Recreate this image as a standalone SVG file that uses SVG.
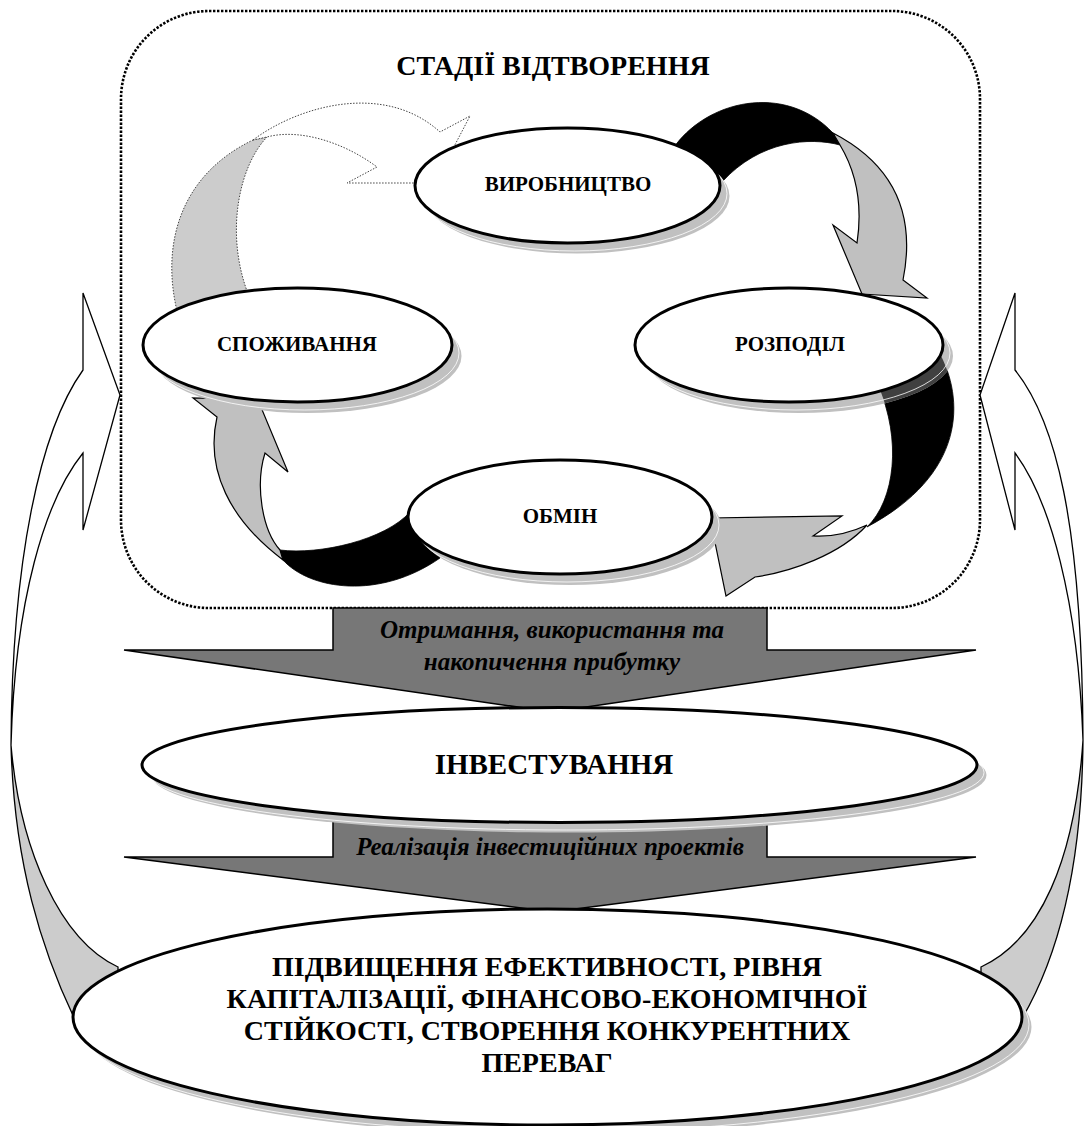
<svg xmlns="http://www.w3.org/2000/svg" width="1084" height="1126" viewBox="0 0 1084 1126">
<defs>
<style>
.t{font-family:"Liberation Serif","Times New Roman",serif;font-weight:bold;text-anchor:middle;fill:#000}
.ti{font-style:italic}
.s21{font-size:21px}
.s28{font-size:28px}
.s29{font-size:29px}
.s25{font-size:25px}
.el{fill:#fff;stroke:#000;stroke-width:3}
.sh{fill:#c0c0c0}
.shl{fill:none;stroke:#fff;stroke-width:0.8}
.side{fill:#fff;stroke:#000;stroke-width:1.3;stroke-linejoin:miter}
.sideg{fill:#cccccc;stroke:#000;stroke-width:1.3}
.blk{fill:#000;stroke:#000;stroke-width:0.8}
.gry{fill:#c0c0c0;stroke:#000;stroke-width:1.2;stroke-linejoin:miter}
.dotg{fill:#cccccc;stroke:#444;stroke-width:1;stroke-dasharray:1.5 1.5}
.dotw{fill:#fff;stroke:#444;stroke-width:1;stroke-dasharray:1.5 1.5}
.barrow{fill:#777;stroke:#000;stroke-width:1.5;stroke-linejoin:miter}
.frame{fill:none;stroke:#000;stroke-width:2.6;stroke-dasharray:2.4 1.6}
</style>
<path id="bandR" d="M 938,350 C 966,400 965,475 867,527 C 895,500 902,440 878,385 Z"/>
<clipPath id="clipShR"><ellipse cx="799" cy="356" rx="154" ry="57"/></clipPath>
</defs>
<rect width="1084" height="1126" fill="#fff"/>

<g id="frame">
<rect class="frame" x="121" y="11" width="859" height="597" rx="88" ry="88"/>
<text class="t s28" x="553" y="75">СТАДІЇ ВІДТВОРЕННЯ</text>
</g>

<g id="connectors">
<!-- left side return arrow -->
<path class="side" d="M 11,745 C 12,560 40,430 83,370 L 83,293 L 120,395 L 83,530 L 83,453 C 45,500 15,600 11,745 Z"/>
<path class="sideg" d="M 11,745 C 20,850 60,940 118,967 L 118,990 L 80,1030 C 40,950 14,860 11,745 Z"/>
<!-- right side return arrow -->
<path class="side" d="M 1083,740 C 1082,520 1055,420 1015,370 L 1015,293 L 980,395 L 1015,530 L 1015,453 C 1050,500 1078,600 1083,740 Z"/>
<path class="sideg" d="M 1083,740 C 1075,860 1040,940 981,967 L 981,990 L 1015,1030 C 1060,960 1082,860 1083,740 Z"/>

<!-- СПОЖИВАННЯ -> ВИРОБНИЦТВО -->
<path class="dotg" d="M 178,315 C 160,245 180,175 253,140 L 267,137 C 240,165 225,230 247,291 L 245,305 Z"/>
<path class="dotw" d="M 253,140 C 300,105 385,82 440,132 L 470,116 L 435,183 L 347,183 L 377,167 C 345,143 300,128 267,137 Z"/>

<!-- ВИРОБНИЦТВО -> РОЗПОДІЛ -->
<path class="blk" d="M 672,150 C 705,100 785,82 833,133 L 840,145 C 810,137 760,140 722,182 Z"/>
<path class="gry" d="M 833,133 C 885,160 918,205 903,280 L 927,298 L 862,294 L 833,225 L 857,243 C 862,210 858,175 840,145 Z"/>

<!-- РОЗПОДІЛ -> ОБМІН -->
<use href="#bandR" class="blk"/>
<path class="gry" d="M 867,525 C 850,533 830,537 813,536 L 842,516 L 710,518 L 726,596 L 755,577 C 790,572 840,555 867,525 Z"/>

<!-- ОБМІН -> СПОЖИВАННЯ -->
<path class="blk" d="M 410,512 C 385,540 320,555 280,550 L 283,560 C 310,590 380,600 440,558 Z"/>
<path class="gry" d="M 283,560 C 230,520 205,470 217,417 L 193,398 L 258,400 L 288,472 L 265,453 C 255,485 262,530 280,550 Z"/>

<!-- block arrows -->
<g id="arrow-profit">
<polygon class="barrow" points="333,608 767,608 767,650 976,650 552,712 124,650 333,650"/>
<text class="t ti s25" x="552" y="638">Отримання, використання та</text>
<text class="t ti s25" x="552" y="670">накопичення прибутку</text>
</g>
<g id="arrow-projects">
<polygon class="barrow" points="333,790 767,790 767,857 976,857 552,912 124,857 333,857"/>
<text class="t ti s25" x="550" y="855">Реалізація інвестиційних проектів</text>
</g>
</g>

<g id="node-vyrobnytstvo">
<ellipse class="sh" cx="577" cy="196" rx="152.5" ry="57.5"/>
<ellipse class="shl" cx="574.5" cy="193.5" rx="152.5" ry="57.5"/>
<ellipse class="el" cx="567.5" cy="185.5" rx="152.5" ry="57.5"/>
<text class="t s21" x="568" y="191">ВИРОБНИЦТВО</text>
</g>

<g id="node-spozhyvannia">
<ellipse class="sh" cx="307" cy="356" rx="154.5" ry="57"/>
<ellipse class="shl" cx="304.5" cy="353" rx="154.5" ry="57"/>
<ellipse class="el" cx="297.5" cy="345" rx="154.5" ry="57"/>
<text class="t s21" x="297" y="351">СПОЖИВАННЯ</text>
</g>

<g id="node-rozpodil">
<ellipse class="sh" cx="799" cy="356" rx="154" ry="57"/>
<use href="#bandR" fill="#404040" clip-path="url(#clipShR)"/>
<ellipse class="shl" cx="796" cy="353" rx="154" ry="57"/>
<ellipse class="el" cx="789" cy="345" rx="154" ry="57"/>
<text class="t s21" x="790" y="351">РОЗПОДІЛ</text>
</g>

<g id="node-obmin">
<ellipse class="sh" cx="570" cy="528" rx="152" ry="57"/>
<ellipse class="shl" cx="567" cy="525" rx="152" ry="57"/>
<ellipse class="el" cx="560" cy="517" rx="152" ry="57"/>
<text class="t s21" x="560" y="523">ОБМІН</text>
</g>

<g id="node-investuvannia">
<ellipse class="sh" cx="569" cy="775" rx="417.5" ry="57.5"/>
<ellipse class="shl" cx="566.5" cy="772.5" rx="417.5" ry="57.5"/>
<ellipse class="el" cx="559.5" cy="765" rx="417.5" ry="57.5"/>
<text class="t s29" x="554" y="774">ІНВЕСТУВАННЯ</text>
</g>

<g id="node-result">
<ellipse class="sh" cx="557" cy="1027" rx="474.5" ry="108"/>
<ellipse class="shl" cx="554.5" cy="1024.5" rx="474.5" ry="108"/>
<ellipse class="el" cx="547.5" cy="1017" rx="474.5" ry="108"/>
<text class="t s28" x="547" y="976">ПІДВИЩЕННЯ ЕФЕКТИВНОСТІ, РІВНЯ</text>
<text class="t s28" x="547" y="1008">КАПІТАЛІЗАЦІЇ, ФІНАНСОВО-ЕКОНОМІЧНОЇ</text>
<text class="t s28" x="547" y="1040">СТІЙКОСТІ, СТВОРЕННЯ КОНКУРЕНТНИХ</text>
<text class="t s28" x="547" y="1072">ПЕРЕВАГ</text>
</g>
</svg>
